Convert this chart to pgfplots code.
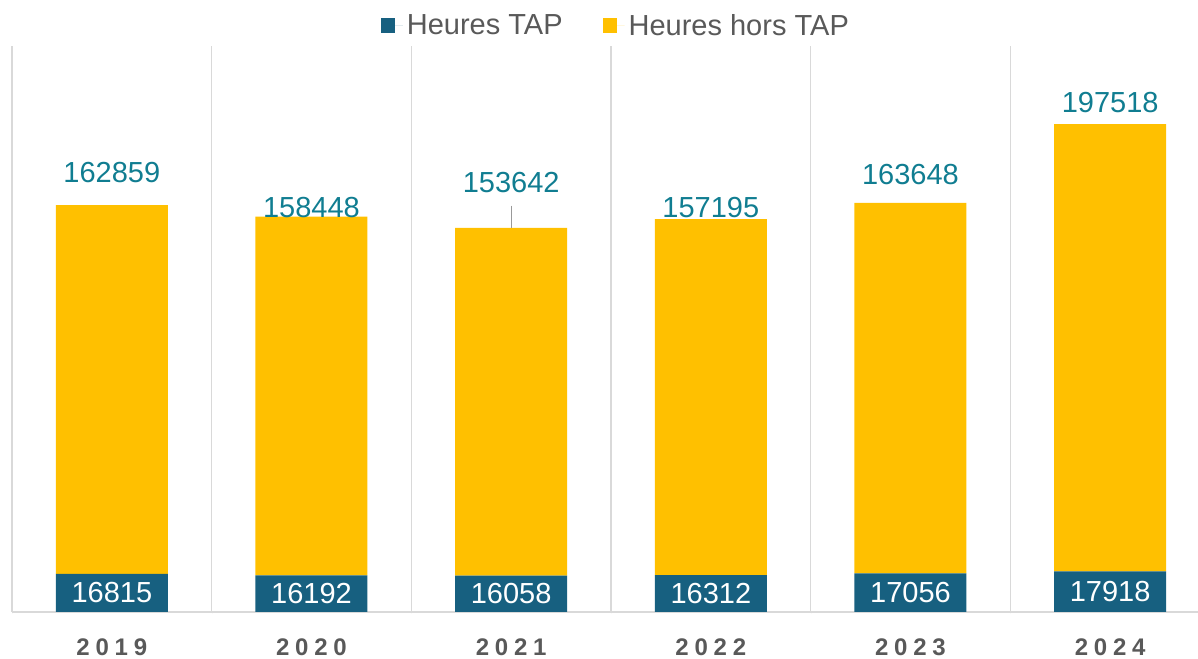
\documentclass[border=0pt]{standalone}
\usepackage{fontspec}
\setmainfont{Liberation Sans}
\usepackage{pgfplots}
\pgfplotsset{compat=1.18}
\definecolor{tap}{RGB}{23,96,128}
\definecolor{hors}{RGB}{255,192,0}
\definecolor{lbl}{RGB}{16,125,145}
\definecolor{gridc}{RGB}{217,217,217}
\definecolor{txt}{RGB}{89,89,89}
\newcommand{\lf}{\fontsize{29}{34}\selectfont}
\begin{document}
\begin{tikzpicture}
\useasboundingbox (0pt,0pt) rectangle (1198pt,658pt);
\begin{axis}[
  at={(12pt,46pt)}, anchor=south west,
  scale only axis, width=1186pt, height=566pt,
  ybar stacked, bar width=112pt,
  xmin=-0.5, xmax=5.44, ymin=0, ymax=250000,
  axis x line=bottom, axis y line=none,
  x axis line style={draw=gridc, line width=1.3pt, -},
  xtick={0,1,2,3,4,5},
  xticklabels={2019,2020,2021,2022,2023,2024},
  major tick length=0pt,
  xticklabel style={anchor=center, yshift=-35pt, text=txt,
    font=\fontsize{24}{28}\selectfont\bfseries\addfontfeature{LetterSpace=24}},
  minor xtick={-0.5,0.5,1.5,2.5,3.5,4.5},
  minor x grid style={draw=gridc, line width=1.3pt},
  xminorgrids=true,
  clip=false,
  legend columns=2,
  legend style={at={(0.51,1.036)}, anchor=center, draw=none, fill=none,
    font=\lf, text=txt,
    /tikz/every even column/.append style={column sep=36pt},
    nodes={inner xsep=4pt}},
  legend image code/.code={\fill[#1] (0pt,-7.5pt) rectangle (14pt,7.5pt); \path (14pt,0pt) -- (22pt,0pt);},
]
\addplot[fill=tap, draw=none] coordinates {(0,16815) (1,16192) (2,16058) (3,16312) (4,17056) (5,17918)};
\addplot[fill=hors, draw=none] coordinates {(0,162859) (1,158448) (2,153642) (3,157195) (4,163648) (5,197518)};
\legend{Heures TAP, Heures hors TAP}
% anchor points for labels
\coordinate (t0) at (axis cs:0,8407);
\coordinate (t1) at (axis cs:1,8096);
\coordinate (t2) at (axis cs:2,8029);
\coordinate (t3) at (axis cs:3,8156);
\coordinate (t4) at (axis cs:4,8528);
\coordinate (t5) at (axis cs:5,8959);
\coordinate (h0) at (axis cs:0,194000);
\coordinate (h1) at (axis cs:1,178600);
\coordinate (h2) at (axis cs:2,189600);
\coordinate (h3) at (axis cs:3,178600);
\coordinate (h4) at (axis cs:4,193100);
\coordinate (h5) at (axis cs:5,224900);
\coordinate (la) at (axis cs:2,179500);
\coordinate (lb) at (axis cs:2,169700);
\end{axis}
\node[text=white, font=\lf] at (t0) {16815};
\node[text=white, font=\lf] at (t1) {16192};
\node[text=white, font=\lf] at (t2) {16058};
\node[text=white, font=\lf] at (t3) {16312};
\node[text=white, font=\lf] at (t4) {17056};
\node[text=white, font=\lf] at (t5) {17918};
\node[text=lbl, font=\lf] at (h0) {162859};
\node[text=lbl, font=\lf] at (h1) {158448};
\node[text=lbl, font=\lf] at (h2) {153642};
\node[text=lbl, font=\lf] at (h3) {157195};
\node[text=lbl, font=\lf] at (h4) {163648};
\node[text=lbl, font=\lf] at (h5) {197518};
\draw[draw=black!40, line width=1.2pt] (la) -- (lb);
\end{tikzpicture}
\end{document}
